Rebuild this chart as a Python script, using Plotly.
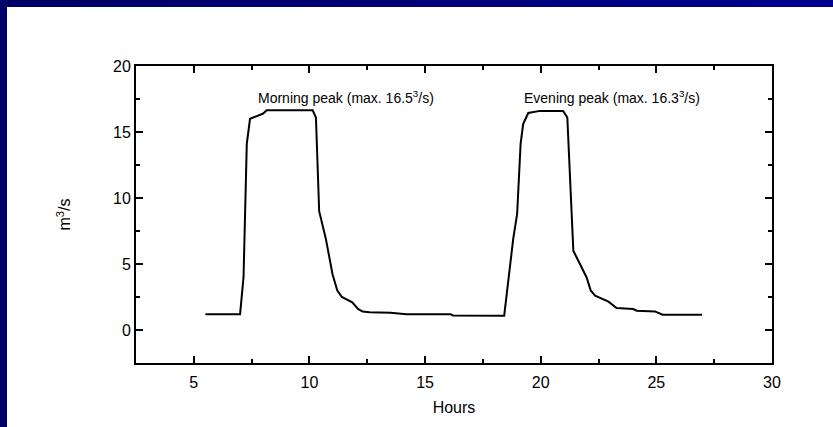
import plotly.graph_objects as go

# Data (hours, m3/s)
hours = [5.5, 7.0, 7.15, 7.29, 7.43, 8.0, 8.15, 10.14, 10.28, 10.42, 10.71, 11.0, 11.2, 11.4,
         11.85, 12.1, 12.3, 12.6, 13.5, 14.2, 16.1, 16.2, 18.42,
         18.81, 18.98, 19.13, 19.24, 19.46, 19.97, 20.97, 21.15, 21.41, 21.98, 22.16, 22.35,
         22.93, 23.28, 24.0, 24.15, 24.94, 25.27, 26.98]
flow = [1.2, 1.2, 4.0, 14.1, 16.0, 16.4, 16.65, 16.65, 16.1, 9.0, 6.9, 4.2, 3.0, 2.5,
        2.1, 1.6, 1.4, 1.35, 1.3, 1.2, 1.2, 1.1, 1.08,
        6.9, 8.8, 14.1, 15.6, 16.44, 16.6, 16.6, 16.1, 6.0, 4.0, 3.0, 2.6,
        2.15, 1.67, 1.59, 1.46, 1.41, 1.16, 1.16]

peak_labels = ["Morning peak (max. 16.5<sup>3</sup>/s)", "Evening peak (max. 16.3<sup>3</sup>/s)"]
peak_x = [11.58, 23.07]
peak_y = [17.65, 17.65]

x_ticks = [5, 10, 15, 20, 25, 30]
y_ticks = [0, 5, 10, 15, 20]

FONT = "Liberation Sans, Arial"

fig = go.Figure()
fig.add_trace(go.Scatter(x=hours, y=flow, mode="lines",
                         line=dict(color="black", width=2), showlegend=False,
                         hoverinfo="skip"))

for t, xx, yy in zip(peak_labels, peak_x, peak_y):
    fig.add_annotation(x=xx, y=yy, text=t, showarrow=False,
                       font=dict(family=FONT, size=14, color="black"))

axis_common = dict(showline=True, linecolor="black", linewidth=2, mirror="allticks",
                   ticks="inside", ticklen=7, tickwidth=2, tickcolor="black",
                   showgrid=False, zeroline=False,
                   tickfont=dict(family=FONT, size=16, color="black"),
                   minor=dict(ticks="inside", ticklen=4, tickwidth=2, tickcolor="black",
                              showgrid=False))

fig.update_xaxes(range=[2.5, 30], tickvals=x_ticks, minor_dtick=2.5, minor_tick0=0,
                 ticklabelstandoff=4,
                 title=dict(text="Hours", font=dict(family=FONT, size=16, color="black"),
                            standoff=12),
                 **axis_common)
fig.update_yaxes(range=[-2.5, 20], tickvals=y_ticks, minor_dtick=2.5, minor_tick0=0,
                 title=dict(text="m<sup>3</sup>/s", font=dict(family=FONT, size=16, color="black"),
                            standoff=38),
                 **axis_common)

# navy frame on top and left edges (gradient approximated by strips)
n = 24
for i in range(n):
    c0 = (0x00, 0x00, 0x66)
    c1 = (0x00, 0x00, 0x8c)
    f = i / (n - 1)
    col = "rgb(%d,%d,%d)" % tuple(round(a + (b - a) * f) for a, b in zip(c0, c1))
    fig.add_shape(type="rect", xref="paper", yref="paper",
                  x0=-136/636 + i * (833/636) / n, x1=-136/636 + (i + 1) * (833/636) / n + 0.002,
                  y0=1 + (66-7)/297, y1=1 + 66/297 + 0.01,
                  fillcolor=col, line_width=0, layer="above")
fig.add_shape(type="rect", xref="paper", yref="paper",
              x0=-136/636 - 0.01, x1=-(136-7)/636,
              y0=-64/297 - 0.01, y1=1 + 66/297 + 0.01,
              fillcolor="rgb(0,0,102)", line_width=0, layer="above")

fig.update_layout(width=833, height=427, paper_bgcolor="white", plot_bgcolor="white",
                  margin=dict(l=136, r=61, t=66, b=64),
                  font=dict(family=FONT, color="black"))

fig.write_html("out.html")
